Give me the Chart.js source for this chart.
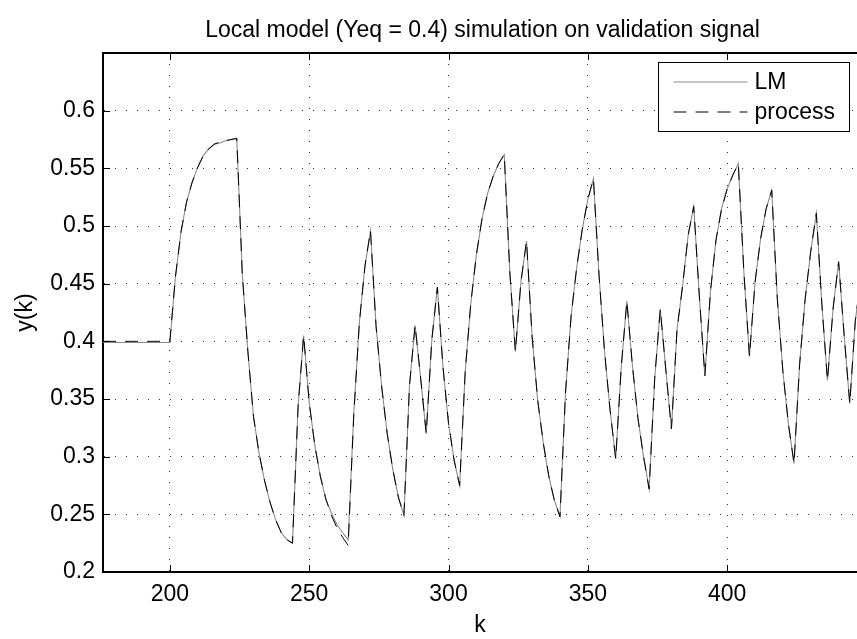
<!DOCTYPE html>
<html>
<head>
<meta charset="utf-8">
<title>Local model simulation on validation signal</title>
<script src="https://cdn.jsdelivr.net/npm/chart.js@4.4.0/dist/chart.umd.min.js"></script>
<style>
  html, body { margin: 0; padding: 0; background: #fff; overflow: hidden; }
  canvas { display: block; }
</style>
</head>
<body>
<canvas id="simChart" width="857" height="639"></canvas>
<script>
// sample index k (every 2nd sample)
const kValues = [
    176, 178, 180, 182, 184, 186, 188, 190, 192, 194, 196, 198,
    200, 202, 204, 206, 208, 210, 212, 214, 216, 218, 220, 222,
    224, 226, 228, 230, 232, 234, 236, 238, 240, 242, 244, 246,
    248, 250, 252, 254, 256, 258, 260, 262, 264, 266, 268, 270,
    272, 274, 276, 278, 280, 282, 284, 286, 288, 290, 292, 294,
    296, 298, 300, 302, 304, 306, 308, 310, 312, 314, 316, 318,
    320, 322, 324, 326, 328, 330, 332, 334, 336, 338, 340, 342,
    344, 346, 348, 350, 352, 354, 356, 358, 360, 362, 364, 366,
    368, 370, 372, 374, 376, 378, 380, 382, 384, 386, 388, 390,
    392, 394, 396, 398, 400, 402, 404, 406, 408, 410, 412, 414,
    416, 418, 420, 422, 424, 426, 428, 430, 432, 434, 436, 438,
    440, 442, 444, 446, 448
];

// process output y(k)
const processY = [
    0.400, 0.400, 0.400, 0.400, 0.400, 0.400, 0.400, 0.400, 0.400, 0.400, 0.400, 0.400,
    0.400, 0.456, 0.495, 0.521, 0.538, 0.551, 0.561, 0.567, 0.571, 0.573, 0.574, 0.575,
    0.576, 0.458, 0.391, 0.335, 0.303, 0.279, 0.260, 0.245, 0.234, 0.228, 0.225, 0.343,
    0.405, 0.347, 0.310, 0.283, 0.263, 0.249, 0.238, 0.230, 0.223, 0.336, 0.416, 0.465,
    0.496, 0.413, 0.361, 0.320, 0.289, 0.265, 0.249, 0.362, 0.414, 0.368, 0.320, 0.401,
    0.447, 0.378, 0.329, 0.297, 0.275, 0.374, 0.433, 0.475, 0.506, 0.528, 0.543, 0.554,
    0.562, 0.460, 0.391, 0.452, 0.487, 0.404, 0.349, 0.312, 0.283, 0.262, 0.248, 0.356,
    0.422, 0.464, 0.497, 0.523, 0.541, 0.458, 0.391, 0.340, 0.298, 0.378, 0.435, 0.379,
    0.333, 0.300, 0.272, 0.368, 0.428, 0.375, 0.324, 0.410, 0.448, 0.492, 0.517, 0.440,
    0.370, 0.443, 0.488, 0.515, 0.532, 0.544, 0.554, 0.460, 0.387, 0.451, 0.489, 0.515,
    0.531, 0.437, 0.374, 0.328, 0.294, 0.380, 0.437, 0.478, 0.511, 0.432, 0.366, 0.428,
    0.469, 0.405, 0.346, 0.418, 0.455
];

// local model (LM) output
const lmY = [
    0.399, 0.399, 0.399, 0.399, 0.399, 0.399, 0.399, 0.399, 0.399, 0.399, 0.399, 0.399,
    0.399, 0.456, 0.495, 0.521, 0.538, 0.551, 0.561, 0.567, 0.571, 0.572, 0.574, 0.575,
    0.576, 0.458, 0.391, 0.335, 0.303, 0.279, 0.260, 0.245, 0.234, 0.228, 0.225, 0.343,
    0.405, 0.347, 0.310, 0.283, 0.263, 0.251, 0.241, 0.234, 0.228, 0.338, 0.416, 0.465,
    0.496, 0.413, 0.361, 0.320, 0.289, 0.265, 0.249, 0.362, 0.414, 0.368, 0.320, 0.401,
    0.447, 0.378, 0.329, 0.297, 0.275, 0.374, 0.433, 0.475, 0.506, 0.528, 0.543, 0.554,
    0.562, 0.460, 0.391, 0.452, 0.487, 0.404, 0.349, 0.312, 0.283, 0.262, 0.248, 0.356,
    0.422, 0.464, 0.497, 0.523, 0.541, 0.458, 0.391, 0.340, 0.298, 0.378, 0.435, 0.379,
    0.333, 0.300, 0.272, 0.368, 0.428, 0.375, 0.324, 0.410, 0.448, 0.492, 0.517, 0.440,
    0.370, 0.443, 0.488, 0.515, 0.532, 0.544, 0.554, 0.460, 0.387, 0.451, 0.489, 0.515,
    0.531, 0.437, 0.374, 0.328, 0.294, 0.380, 0.437, 0.478, 0.511, 0.432, 0.366, 0.428,
    0.469, 0.405, 0.346, 0.418, 0.455
];

const xTicks = [200, 250, 300, 350, 400];
const yTicks = [0.2, 0.25, 0.3, 0.35, 0.4, 0.45, 0.5, 0.55, 0.6];
const titleText = 'Local model (Yeq = 0.4) simulation on validation signal';

const FONT = '"Liberation Sans", Arial, Helvetica, sans-serif';
Chart.defaults.font.family = FONT;
Chart.defaults.color = '#000';

function toPoints(ys) {
    return kValues.map((k, i) => ({ x: k, y: ys[i] }));
}

// box top edge + inward tick marks (matlab style), title over the full axes box
const boxPlugin = {
    id: 'boxTicks',
    afterDraw(chart) {
        const { ctx, chartArea: a, scales: { x, y } } = chart;
        ctx.save();
        ctx.strokeStyle = '#000';
        ctx.lineWidth = 2;
        ctx.beginPath();
        ctx.moveTo(a.left, a.top);
        ctx.lineTo(a.right, a.top);
        ctx.stroke();

        ctx.lineWidth = 1;
        ctx.beginPath();
        xTicks.forEach(v => {
            const px = Math.round(x.getPixelForValue(v)) + 0.5;
            ctx.moveTo(px, a.bottom);
            ctx.lineTo(px, a.bottom - 7);
            ctx.moveTo(px, a.top);
            ctx.lineTo(px, a.top + 7);
        });
        yTicks.forEach(v => {
            const py = Math.round(y.getPixelForValue(v)) + 0.5;
            ctx.moveTo(a.left, py);
            ctx.lineTo(a.left + 7, py);
        });
        ctx.stroke();

        // the axes box runs a little past the right edge, so centre on it
        ctx.font = '23px ' + FONT;
        ctx.fillStyle = '#000';
        ctx.textAlign = 'center';
        ctx.textBaseline = 'alphabetic';
        ctx.fillText(titleText, 482.5, 36.5);
        ctx.restore();
    }
};

// legend box in the upper right corner
const legendPlugin = {
    id: 'boxLegend',
    afterDraw(chart) {
        const ctx = chart.ctx;
        const entries = [chart.data.datasets[1], chart.data.datasets[0]];
        const left = 658.5, top = 62.5, w = 191, h = 69;
        ctx.save();
        ctx.fillStyle = '#fff';
        ctx.fillRect(left, top, w, h);
        ctx.strokeStyle = '#000';
        ctx.lineWidth = 1;
        ctx.strokeRect(left, top, w, h);

        ctx.font = '23px ' + FONT;
        ctx.textBaseline = 'middle';
        ctx.textAlign = 'left';
        entries.forEach((ds, i) => {
            const cy = top + 19.5 + i * 30;
            ctx.strokeStyle = ds.borderColor;
            ctx.lineWidth = ds.borderWidth;
            ctx.setLineDash(ds.borderDash || []);
            ctx.beginPath();
            ctx.moveTo(left + 15, cy);
            ctx.lineTo(left + 89, cy);
            ctx.stroke();
            ctx.setLineDash([]);
            ctx.fillStyle = '#000';
            ctx.fillText(ds.label, left + 96, cy + 1);
        });
        ctx.restore();
    }
};

const ctx = document.getElementById('simChart');
new Chart(ctx, {
    type: 'line',
    data: {
        datasets: [{
            label: 'process',
            data: toPoints(processY),
            borderColor: '#000',
            borderWidth: 1,
            borderDash: [13, 9],
            pointRadius: 0,
            tension: 0
        }, {
            label: 'LM',
            data: toPoints(lmY),
            borderColor: '#8a8a8a',
            borderWidth: 1.1,
            pointRadius: 0,
            tension: 0
        }]
    },
    options: {
        responsive: false,
        animation: false,
        devicePixelRatio: 1,
        layout: { padding: { top: 53, left: 0, right: 0, bottom: 0 } },
        plugins: {
            legend: { display: false },
            tooltip: { enabled: false },
            title: { display: false }
        },
        scales: {
            x: {
                type: 'linear',
                min: 176,
                max: 446.6,
                afterBuildTicks: scale => { scale.ticks = xTicks.map(v => ({ value: v })); },
                afterFit: scale => { scale.height = 67; },
                ticks: {
                    font: { size: 23 },
                    color: '#000',
                    padding: 9,
                    maxRotation: 0
                },
                grid: {
                    color: 'rgba(0,0,0,0.8)',
                    lineWidth: 1,
                    drawTicks: false
                },
                border: {
                    display: true,
                    color: '#000',
                    width: 2,
                    dash: [1, 10]
                },
                title: {
                    display: true,
                    text: 'k',
                    font: { size: 23 },
                    color: '#000',
                    padding: { top: 0, bottom: 0 }
                }
            },
            y: {
                type: 'linear',
                min: 0.2,
                max: 0.65,
                afterBuildTicks: scale => { scale.ticks = yTicks.map(v => ({ value: v })); },
                afterFit: scale => { scale.width = 103; },
                ticks: {
                    font: { size: 23 },
                    color: '#000',
                    padding: 8,
                    callback: v => String(+v.toFixed(2))
                },
                grid: {
                    color: 'rgba(0,0,0,0.8)',
                    lineWidth: 1,
                    drawTicks: false
                },
                border: {
                    display: true,
                    color: '#000',
                    width: 2,
                    dash: [1, 10]
                },
                title: {
                    display: true,
                    text: 'y(k)',
                    font: { size: 23 },
                    color: '#000',
                    padding: { top: 12, bottom: 0 }
                }
            }
        }
    },
    plugins: [boxPlugin, legendPlugin]
});
</script>
</body>
</html>
